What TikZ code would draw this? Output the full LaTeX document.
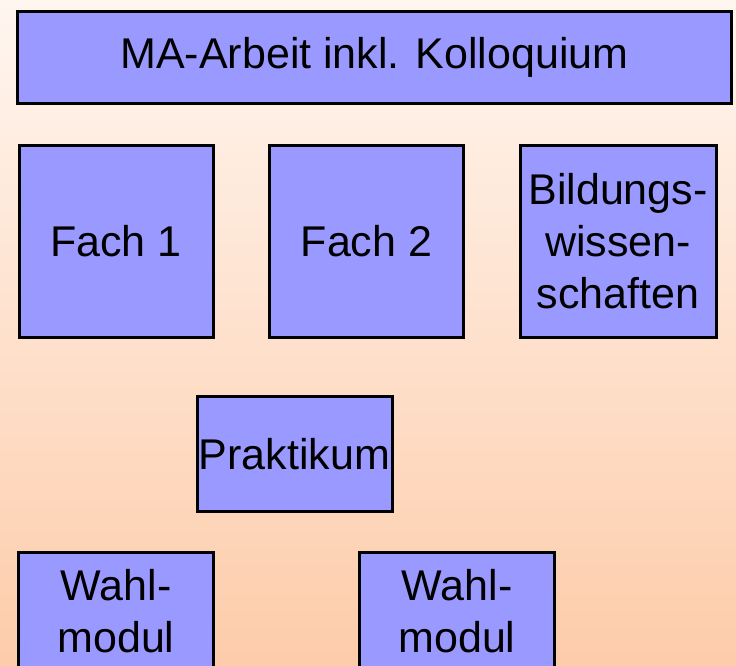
\documentclass[tikz,border=0pt]{standalone}
\usepackage{fontspec}
\setmainfont{Liberation Sans}
\usetikzlibrary{shadows}
\definecolor{boxfill}{HTML}{9999FF}
\definecolor{bgtop}{HTML}{FFF6F0}
\definecolor{bgbot}{HTML}{FDCCAA}
\begin{document}
\begin{tikzpicture}[x=1pt,y=-1pt,
  box/.style={draw=black, line width=3pt, fill=boxfill, inner sep=0pt,
    align=center, font=\fontsize{43}{52}\selectfont,
    drop shadow={shadow xshift=1.5pt, shadow yshift=-1.5pt, fill=gray!70, opacity=1}},
]
\useasboundingbox (0,0) rectangle (736,665);
\shade[top color=bgtop, bottom color=bgbot] (0,0) rectangle (736,665);
\node[box, minimum width=714, minimum height=92] (ma) at (374.5,57) {MA-Arbeit inkl. Kolloquium};
\node[box, minimum width=194, minimum height=192] (f1) at (116,241) {Fach 1};
\node[box, minimum width=194, minimum height=192] (f2) at (366.5,241) {Fach 2};
\node[box, minimum width=196, minimum height=192] (bw) at (618,241) {Bildungs-\\wissen-\\schaften};
\node[box, minimum width=195, minimum height=115] (pr) at (294.5,454) {Praktikum};
\node[box, minimum width=195, minimum height=117] (w1) at (116,611) {Wahl-\\modul};
\node[box, minimum width=195, minimum height=117] (w2) at (457,611) {Wahl-\\modul};
\end{tikzpicture}
\end{document}
